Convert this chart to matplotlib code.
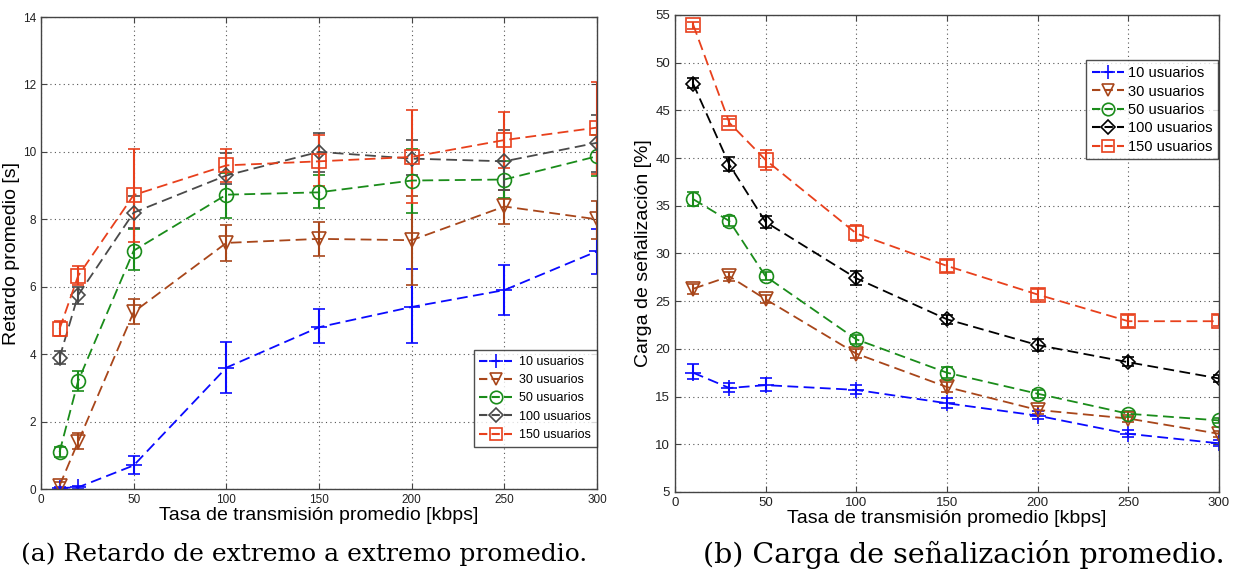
import matplotlib
matplotlib.use("Agg")
import matplotlib.pyplot as plt
from matplotlib.lines import Line2D

# ---------- data ----------
x_left = [10, 20, 50, 100, 150, 200, 250, 300]
x_right = [10, 30, 50, 100, 150, 200, 250, 300]
labels = ["10 usuarios", "30 usuarios", "50 usuarios", "100 usuarios", "150 usuarios"]

# Left: retardo promedio [s]  (mean, lower, upper)
d10 = [0.03, 0.05, 0.70, 3.60, 4.80, 5.40, 5.90, 7.05]
d10_lo = [0.0, 0.0, 0.45, 2.85, 4.32, 4.32, 5.15, 6.38]
d10_hi = [0.06, 0.1, 0.97, 4.35, 5.33, 6.52, 6.65, 7.72]
d30 = [0.10, 1.40, 5.25, 7.30, 7.42, 7.38, 8.38, 8.00]
d30_lo = [0.0, 1.20, 4.90, 6.77, 6.90, 6.05, 7.87, 7.42]
d30_hi = [0.20, 1.65, 5.65, 7.83, 7.93, 8.70, 8.88, 8.55]
d50 = [1.10, 3.20, 7.07, 8.73, 8.80, 9.15, 9.18, 9.87]
d50_lo = [0.95, 2.90, 6.50, 8.05, 8.35, 8.20, 8.62, 9.27]
d50_hi = [1.25, 3.50, 7.70, 9.38, 9.30, 10.10, 9.73, 10.50]
d100 = [3.90, 5.75, 8.20, 9.30, 10.00, 9.80, 9.72, 10.27]
d100_lo = [3.70, 5.50, 7.75, 9.05, 9.40, 9.30, 8.87, 9.40]
d100_hi = [4.10, 6.00, 8.68, 9.98, 10.55, 10.35, 10.65, 11.10]
d150 = [4.75, 6.32, 8.72, 9.60, 9.72, 9.85, 10.35, 10.72]
d150_lo = [4.55, 6.05, 7.33, 9.10, 9.00, 8.48, 9.52, 9.35]
d150_hi = [4.97, 6.62, 10.10, 10.08, 10.50, 11.25, 11.18, 12.08]

# Right: carga de senalizacion [%]
c10 = [17.5, 15.9, 16.2, 15.7, 14.3, 13.0, 11.1, 10.1]
c10_lo = [16.8, 15.5, 15.6, 15.3, 13.8, 12.6, 10.8, 9.8]
c10_hi = [18.4, 16.4, 16.9, 16.2, 14.9, 13.5, 11.5, 10.4]
c30 = [26.3, 27.6, 25.2, 19.5, 16.0, 13.6, 12.7, 11.1]
c30_lo = [25.8, 27.1, 24.8, 19.0, 15.5, 13.2, 12.3, 10.8]
c30_hi = [26.8, 28.1, 25.6, 20.0, 16.5, 14.0, 13.1, 11.4]
c50 = [35.7, 33.4, 27.6, 21.0, 17.5, 15.3, 13.2, 12.5]
c50_lo = [35.0, 32.9, 27.2, 20.5, 17.0, 14.9, 12.9, 12.2]
c50_hi = [36.4, 33.9, 28.1, 21.5, 18.1, 15.7, 13.5, 12.8]
c100 = [47.8, 39.3, 33.3, 27.4, 23.1, 20.4, 18.6, 16.9]
c100_lo = [47.3, 38.6, 32.7, 26.7, 22.6, 19.8, 18.2, 16.5]
c100_hi = [48.4, 40.1, 33.9, 28.2, 23.6, 21.0, 19.1, 17.3]
c150 = [54.0, 43.7, 39.8, 32.1, 28.7, 25.7, 22.9, 22.9]
c150_lo = [53.5, 43.4, 38.7, 31.3, 28.1, 25.1, 22.3, 22.4]
c150_hi = [54.3, 44.1, 40.9, 33.0, 29.3, 26.3, 23.5, 23.5]

x_ticks = [0, 50, 100, 150, 200, 250, 300]
y_ticks_left = [0, 2, 4, 6, 8, 10, 12, 14]
y_ticks_right = [5, 10, 15, 20, 25, 30, 35, 40, 45, 50, 55]

markers = ["+", "v", "o", "D", "s"]
colors_left = ["#0a0aff", "#a8461a", "#1a8c1a", "#4a4a4a", "#e8401c"]
colors_right = ["#0a0aff", "#a8461a", "#1a8c1a", "#000000", "#e8401c"]

left_series = [(d10, d10_lo, d10_hi), (d30, d30_lo, d30_hi), (d50, d50_lo, d50_hi),
               (d100, d100_lo, d100_hi), (d150, d150_lo, d150_hi)]
right_series = [(c10, c10_lo, c10_hi), (c30, c30_lo, c30_hi), (c50, c50_lo, c50_hi),
                (c100, c100_lo, c100_hi), (c150, c150_lo, c150_hi)]

sans = ["Liberation Sans Narrow", "Liberation Sans", "DejaVu Sans"]
plt.rcParams["font.family"] = sans

fig = plt.figure(figsize=(12.36, 5.79), dpi=100)
axL = fig.add_axes([0.0332, 0.1554, 0.4498, 0.8152])
axR = fig.add_axes([0.5461, 0.1503, 0.4401, 0.8238])


def msz(mk, msize):
    if mk == "D":
        return msize * 0.75
    if mk == "+":
        return msize * 1.1
    return msize


def draw(ax, xs, series, colors, msize):
    handles = []
    for (m, lo, hi), mk, col, lab in zip(series, markers, colors, labels):
        yerr = [[a - b for a, b in zip(m, lo)], [b - a for a, b in zip(m, hi)]]
        ax.errorbar(xs, m, yerr=yerr, color=col, linestyle="--", linewidth=1.3,
                    marker=mk, markersize=msz(mk, msize), markerfacecolor="none",
                    markeredgecolor=col, markeredgewidth=1.2,
                    elinewidth=1.5, capsize=4.5, capthick=1.5,
                    dashes=(6, 3))
        handles.append(Line2D([], [], color=col, linestyle="--", linewidth=1.5,
                              dashes=(4, 2), marker=mk,
                              markersize=msz(mk, msize) * 0.9,
                              markerfacecolor="none", markeredgecolor=col,
                              markeredgewidth=1.2, label=lab))
    return handles


hL = draw(axL, x_left, left_series, colors_left, 10)
hR = draw(axR, x_right, right_series, colors_right, 10)

for ax, yt, ylim in [(axL, y_ticks_left, (0, 14)), (axR, y_ticks_right, (5, 55))]:
    ax.set_xlim(0, 300)
    ax.set_ylim(*ylim)
    ax.set_xticks(x_ticks)
    ax.set_yticks(yt)
    ax.grid(True, linestyle=(0, (1, 3)), color="#555555", linewidth=0.8)
    ax.tick_params(direction="in", length=4, width=0.8, color="#444444",
                   top=True, right=True, labelsize=9.5, labelcolor="#222222")
    for s in ax.spines.values():
        s.set_color("#444444")
        s.set_linewidth(1.0)
    ax.set_xlabel("Tasa de transmisión promedio [kbps]", fontsize=14,
                  family=["Liberation Sans", "DejaVu Sans"], labelpad=1)

axL.set_ylabel("Retardo promedio [s]", fontsize=14,
               family=["Liberation Sans", "DejaVu Sans"], labelpad=2)
axR.set_ylabel("Carga de señalización [%]", fontsize=14,
               family=["Liberation Sans", "DejaVu Sans"], labelpad=2)
axL.tick_params(labelsize=8.5)

legL = axL.legend(handles=hL, loc="lower right", bbox_to_anchor=(1.0, 0.09),
                  fontsize=9, frameon=True, fancybox=False, edgecolor="#222222",
                  borderpad=0.45, labelspacing=0.5, handlelength=2.6,
                  handletextpad=0.6, borderaxespad=0.0)
legL.get_frame().set_linewidth(1.0)
legR = axR.legend(handles=hR, loc="upper right", bbox_to_anchor=(0.999, 0.905),
                  fontsize=10.5, frameon=True, fancybox=False, edgecolor="#222222",
                  borderpad=0.4, labelspacing=0.3, handlelength=2.2,
                  handletextpad=0.3, borderaxespad=0.0)
legR.get_frame().set_linewidth(1.0)

serif = ["DejaVu Serif"]
fig.text(0.246, 0.042, "(a) Retardo de extremo a extremo promedio.", ha="center",
         va="center", fontsize=18, family=serif)
fig.text(0.780, 0.042, "(b) Carga de señalización promedio.", ha="center",
         va="center", fontsize=20.5, family=serif)

fig.savefig("out.png", dpi=100)
